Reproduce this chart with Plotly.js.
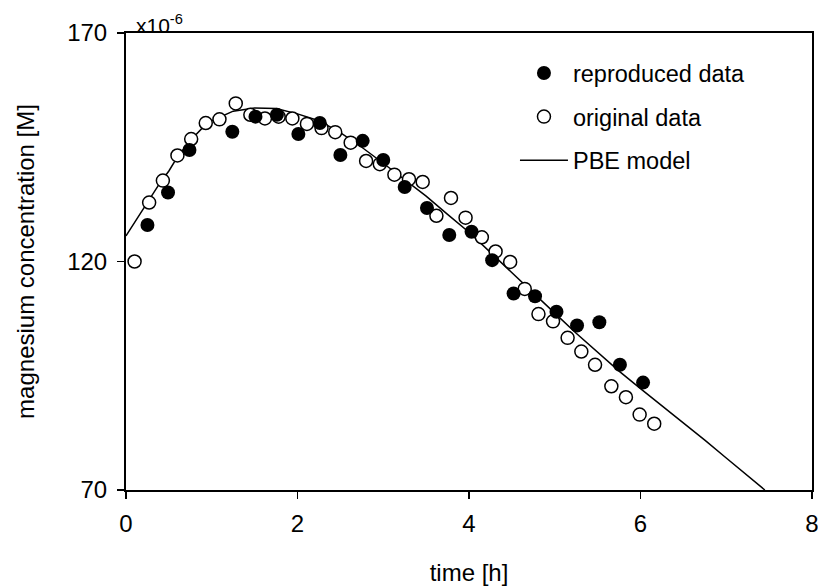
<!DOCTYPE html>
<html>
<head>
<meta charset="utf-8">
<script src="https://cdn.plot.ly/plotly-3.0.1.min.js"></script>
<style>html,body{margin:0;padding:0;background:#fff;}#chart{width:818px;height:586px;}</style>
</head>
<body>
<div id="chart"></div>
<script>
// reproduced data (filled circles)
const reproducedTime = [0.25, 0.49, 0.74, 1.24, 1.51, 1.76, 2.01, 2.26, 2.50, 2.76, 3.00, 3.25, 3.51, 3.77, 4.03, 4.27, 4.52, 4.77, 5.02, 5.26, 5.52, 5.76, 6.03];
const reproducedConc = [128.0, 135.1, 144.4, 148.4, 151.7, 152.1, 147.9, 150.3, 143.3, 146.4, 142.2, 136.3, 131.7, 125.8, 126.5, 120.3, 113.0, 112.4, 109.0, 106.0, 106.7, 97.4, 93.5];

// original data (open circles)
const originalTime = [0.10, 0.27, 0.43, 0.60, 0.76, 0.93, 1.09, 1.28, 1.45, 1.62, 1.78, 1.94, 2.11, 2.28, 2.44, 2.62, 2.80, 2.96, 3.13, 3.30, 3.46, 3.62, 3.79, 3.96, 4.15, 4.31, 4.48, 4.65, 4.81, 4.98, 5.15, 5.31, 5.47, 5.66, 5.83, 5.99, 6.16];
const originalConc = [120.0, 132.9, 137.7, 143.2, 146.8, 150.3, 151.1, 154.6, 152.1, 151.3, 151.7, 151.3, 150.1, 149.2, 148.3, 146.0, 142.0, 141.3, 139.0, 138.0, 137.4, 130.0, 133.9, 129.6, 125.3, 122.2, 119.9, 114.0, 108.5, 106.9, 103.3, 100.3, 97.4, 92.7, 90.3, 86.5, 84.5];

// PBE model (line)
const modelTime = [0, 0.05, 0.1, 0.25, 0.4, 0.5, 0.6, 0.75, 0.9, 1.0, 1.25, 1.5, 1.75, 2.0, 2.25, 2.5, 2.75, 3.0, 3.25, 3.5, 3.75, 4.0, 4.25, 4.5, 4.75, 5.0, 5.25, 5.5, 5.75, 6.0, 6.25, 6.5, 6.75, 7.0, 7.25, 7.45];
const modelConc = [125.6, 127.1, 128.5, 132.8, 137.3, 139.8, 142.9, 146.5, 149.4, 150.8, 152.9, 153.6, 153.5, 152.3, 150.8, 148.2, 145.0, 141.5, 138.0, 134.3, 130.3, 126.4, 122.0, 117.5, 113.1, 108.7, 104.3, 100.1, 96.0, 92.2, 88.5, 84.8, 80.9, 77.0, 73.1, 70.0];

const xTicks = [0, 2, 4, 6, 8];
const yTicks = [70, 120, 170];

const FONT = 'Liberation Sans, Arial, sans-serif';

const traces = [
  {
    x: modelTime, y: modelConc, mode: 'lines', name: 'PBE model',
    line: {color: '#000', width: 1.5}, legendrank: 3, legendgroup: 'c'
  },
  {
    x: originalTime, y: originalConc, mode: 'markers', name: 'original data',
    marker: {symbol: 'circle', size: 13, color: '#fff', line: {color: '#000', width: 1.5}},
    legendrank: 2, legendgroup: 'b'
  },
  {
    x: reproducedTime, y: reproducedConc, mode: 'markers', name: 'reproduced data',
    marker: {symbol: 'circle', size: 14, color: '#000', line: {color: '#000', width: 0}},
    legendrank: 1, legendgroup: 'a'
  }
];

const layout = {
  width: 818, height: 586,
  margin: {l: 126, r: 6, t: 33, b: 95.5},
  paper_bgcolor: '#fff', plot_bgcolor: '#fff',
  font: {family: FONT, size: 24, color: '#000'},
  showlegend: true,
  legend: {
    x: 0.567, y: 0.96, xanchor: 'left', yanchor: 'top',
    bgcolor: 'rgba(0,0,0,0)', borderwidth: 0,
    font: {family: FONT, size: 23.5, color: '#000'},
    traceorder: 'grouped', tracegroupgap: 10, itemwidth: 48
  },
  xaxis: {
    range: [0, 8], tickvals: xTicks, ticktext: xTicks.map(String),
    showgrid: false, zeroline: false,
    showline: true, linecolor: '#000', linewidth: 2, mirror: true,
    ticks: 'outside', ticklen: 7, tickwidth: 1.5, tickcolor: '#000',
    ticklabelstandoff: 4, ticklabeloverflow: 'allow',
    tickfont: {family: FONT, size: 24, color: '#000'},
    title: {text: 'time [h]', font: {family: FONT, size: 24, color: '#000'}, standoff: 28}
  },
  yaxis: {
    range: [70, 170], tickvals: yTicks, ticktext: yTicks.map(String),
    showgrid: false, zeroline: false,
    showline: true, linecolor: '#000', linewidth: 2, mirror: true,
    ticks: 'outside', ticklen: 7, tickwidth: 1.5, tickcolor: '#000',
    ticklabelstandoff: 5, ticklabeloverflow: 'allow',
    tickfont: {family: FONT, size: 24, color: '#000'},
    title: {text: 'magnesium concentration [M]', font: {family: FONT, size: 24, color: '#000'}, standoff: 26}
  },
  annotations: [
    {
      xref: 'paper', yref: 'paper', x: 0.0, y: 1.0, xanchor: 'left', yanchor: 'bottom',
      text: 'x10<sup>-6</sup>', showarrow: false, xshift: 8, yshift: -6,
      font: {family: FONT, size: 21, color: '#000'}
    }
  ]
};

Plotly.newPlot('chart', traces, layout, {displayModeBar: false, staticPlot: true});
</script>
</body>
</html>
